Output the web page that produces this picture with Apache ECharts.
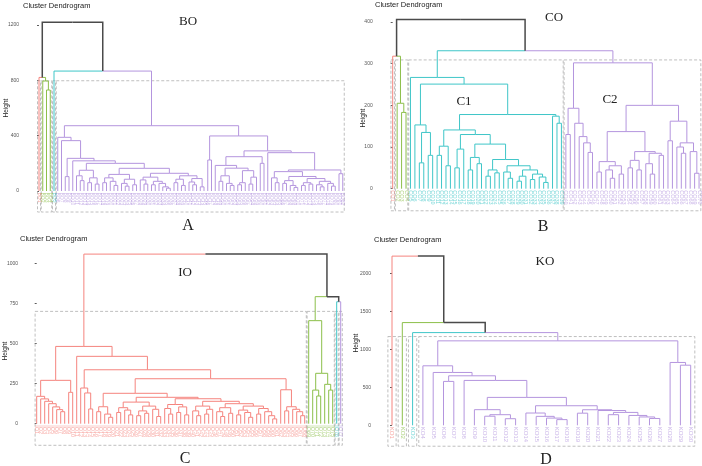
<!DOCTYPE html>
<html>
<head>
<meta charset="utf-8">
<script src="https://cdn.jsdelivr.net/npm/echarts@6/dist/echarts.min.js"></script>
<style>
  html, body { margin: 0; background: #fff; }
  #chart { width: 702px; height: 466px; }
</style>
</head>
<body>
<div id="chart"></div>
<script>
// cluster colours: red, green, cyan, purple
const palette = ['#F5847E', '#8CBF4A', '#3FC6C8', '#B495DE'];

// trees: [height, left, right], leaf = 0, {k: cluster, t: subtree}
const boGreen = [795, 0, [730, 0, 0]];
const boPurple = [472,
  [388, 0, [364, 0, [236, [104, 0, 0], [218, 0, [200,
    [150, [110, 0, [75, 0, 0]], [95, [60, 0, 0], [50, 0, 0]]],
    [164,
      [120, [95, [60, 0, 0], [70, 0, [40, 0, 0]]], [85, [55, 0, [35, 0, 0]], [45, 0, 0]]],
      [128,
        [100, [80, 0, [50, 0, 0]], [70, [45, 0, 0], [55, 0, [30, 0, [20, 0, 0]]]]],
        [110, [85, [60, 0, 0], [40, 0, 0]], [90, [65, 0, [45, 0, 0]], [30, 0, 0]]]]]]]]]],
  [398, [224, 0, 0], [290,
    [248, [185, 0, [165, [110, [70, 0, 0], [55, 0, [40, 0, 0]]], [147, [60, [45, 0, 0], 0], [100, [50, 0, 0], 0]]]], [200, 0, 0]],
    [277, 0, [152,
      [140, [95, 0, [60, 0, 0]],
        [105, [75, [55, 0, 0], [40, 0, [25, 0, 0]]],
          [90, [60, [40, 0, 0], [50, 0, 0]], [70, [45, 0, [30, 0, 0]], [55, 0, [35, 0, 0]]]]]],
      [125, 0, 0]]]]]];
const boTree = [1220, [821, {k: 0, t: 0}, {k: 1, t: boGreen}], [867, {k: 2, t: 0}, {k: 3, t: boPurple}]];

const coGreen = [205, 0, [183, 0, 0]];
const coCyan = [267, 0, [251,
  [153, 0, [135, [62, 0, 0], [80, 0, 0]]],
  [178,
    [141, [102, [80, 0, 0], [55, 0, 0]],
      [130, [95, [50, 0, 0], 0],
        [107, [75, [45, 0, 0], [60, 0, 0]],
          [70, [45, [30, 0, 0], [38, 0, 0]],
            [55, [40, 0, [25, 0, 0]],
              [45, [30, [18, 0, 0], 0], [35, [22, 0, 0], [28, 0, [15, 0, 0]]]]]]]]],
    [174, 0, [157, 0, 0]]]]];
const coPurple = [302,
  [193, [130, 0, 0], [157, 0, [125, 0, [110, 0, [87, 0, 0]]]]],
  [200,
    [137, [65, [40, 0, 0], [55, [45, 0, [25, 0, 0]], [35, 0, 0]]],
      [89, [68, [50, 0, 0], [45, 0, 0]], [85, [60, 0, [35, 0, 0]], [80, 0, 0]]]],
    [162, [115, 0, 0], [110, [100, 0, [85, 0, 0]], [89, 0, [37, 0, 0]]]]]];
const coTree = [406, [318, {k: 0, t: 0}, {k: 1, t: coGreen}], [331, {k: 2, t: coCyan}, {k: 3, t: coPurple}]];

const ioRed = [483,
  [271, [171, 0, [155, 0, [140, 0, [125, 0, [105, 0, [88, 0, [75, 0, 0]]]]]]], [196, 0, 0]],
  [421, 0, [337,
    [223, 0, [192, 0, [92, 0, 0]]],
    [281,
      [190, [106, [75, 0, 0], [60, 0, [40, 0, 0]]],
        [165,
          [135, [100, [70, 0, 0], [85, 0, [55, 0, 0]]], [110, [80, [50, 0, 0], [65, 0, 0]], [90, 0, [45, 0, 0]]]],
          [156,
            [120, [95, 0, [60, 0, 0]], [105, [70, 0, 0], [55, 0, 0]]],
            [140,
              [110, [80, 0, [50, 0, 0]], [90, [60, 0, 0], 0]],
              [125,
                [100, [75, 0, [45, 0, 0]], [65, 0, 0]],
                [110, [85, [55, 0, 0], [70, 0, [40, 0, 0]]], [95, [60, 0, 0], [75, 0, [50, 0, [30, 0, 0]]]]]]]]]],
      [212, 0, [106, [80, 0, 0], [90, 0, [75, 0, [50, 0, 0]]]]]]]]];
const ioGreen = [644, 0, [315, [210, 0, [173, 0, 0]], [246, 0, [210, 0, 0]]]];
const ioTree = [1060, {k: 0, t: ioRed}, [794, {k: 1, t: ioGreen}, [762, {k: 2, t: 0}, {k: 3, t: 0}]]];

const koPurple = [1114,
  [785, 0, [697, 0, [653, [579, 0, 0], [592, 0,
    [368,
      [206, 0, [140, [120, 0, 0], [87, 0, 0]]],
      [258,
        [162, 0, [118, 0, [95, 0, [75, 0, 0]]]],
        [205, [160, 0, 0], [195, 0, [170, [140, 0, 0], [130, 0, [110, 0, [90, 0, 0]]]]]]]]]]]],
  [829, 0, [793, 0, 0]]];
const koTree = [2232, {k: 0, t: 0}, [1355, {k: 1, t: 0}, [1223, {k: 2, t: 0}, {k: 3, t: koPurple}]]];

// y ticks of each panel
const boTicks = [0, 400, 800, 1200];
const coTicks = [0, 100, 200, 300, 400];
const ioTicks = [0, 250, 500, 750, 1000];
const koTicks = [0, 500, 1000, 1500, 2000];

// dashed cluster boxes: [top, bottom] heights
const boBox = [797, -152];
const coBox = [309, -53];
const ioBox = [702, -135];
const koBox = [1171, -276];

function layoutTree(tree) {
  const links = [];
  const leaves = [];
  function walk(node, k) {
    if (node !== null && typeof node === 'object' && !Array.isArray(node)) return walk(node.t, node.k);
    if (!Array.isArray(node)) {
      leaves.push(k);
      return {x: leaves.length - 1, h: 0, k: k};
    }
    const a = walk(node[1], k);
    const b = walk(node[2], k);
    const x = (a.x + b.x) / 2;
    links.push([x, node[0], a.x, a.h, a.k], [x, node[0], b.x, b.h, b.k]);
    return {x: x, h: node[0], k: a.k === b.k ? a.k : -1};
  }
  walk(tree, -1);
  return {links: links, leaves: leaves};
}

function clusterBoxes(leaves, box) {
  const out = [];
  leaves.forEach(function (k, i) {
    let r = out.find(function (o) { return o[4] === k; });
    if (!r) { r = [i, i, box[0], box[1], k]; out.push(r); }
    r[1] = i;
  });
  return out.map(function (r) { return [r[0] - 0.4, r[1] + 0.4, r[2], r[3], r[4]]; });
}

// panel placement in pixels
const panels = [
  {tree: boTree, ticks: boTicks, box: boBox, prefix: 'BO', left: 39, step: 3.75, top: 25, bottom: 191, offset: 18, fs: 5},
  {tree: coTree, ticks: coTicks, box: coBox, prefix: 'CO', left: 392.7, step: 4.44, top: 22, bottom: 188.7, offset: 18, fs: 5.5},
  {tree: ioTree, ticks: ioTicks, box: ioBox, prefix: 'IO', left: 36.7, step: 4, top: 263.7, bottom: 423.7, offset: 16.7, fs: 5.5},
  {tree: koTree, ticks: koTicks, box: koBox, prefix: 'KO', left: 392, step: 10.3, top: 273.7, bottom: 425.3, offset: 19, fs: 6}
];

const grids = [], xAxes = [], yAxes = [], series = [];
panels.forEach(function (p, i) {
  const lay = layoutTree(p.tree);
  const n = lay.leaves.length;
  grids.push({left: p.left, top: p.top, width: (n - 1) * p.step, height: p.bottom - p.top, outerBoundsMode: 'none'});
  xAxes.push({type: 'value', gridIndex: i, min: 0, max: n - 1, show: false});
  yAxes.push({
    type: 'value', gridIndex: i,
    min: p.ticks[0], max: p.ticks[p.ticks.length - 1], interval: p.ticks[1] - p.ticks[0],
    offset: p.offset,
    axisLine: {show: false},
    axisTick: {show: true, length: 2, lineStyle: {color: '#333', width: 0.8}},
    axisLabel: {fontSize: 5, color: '#555', margin: 2, fontFamily: 'Liberation Sans',
      formatter: function (v) { return String(v); }},
    splitLine: {show: false}
  });
  series.push({
    type: 'custom', xAxisIndex: i, yAxisIndex: i, clip: false, silent: true,
    data: clusterBoxes(lay.leaves, p.box),
    renderItem: function (params, api) {
      const a = api.coord([api.value(0), api.value(2)]);
      const b = api.coord([api.value(1), api.value(3)]);
      return {
        type: 'rect',
        shape: {x: a[0], y: a[1], width: b[0] - a[0], height: b[1] - a[1]},
        style: {fill: null, stroke: '#b8b8b8', lineWidth: 0.9, lineDash: [3, 2]}
      };
    }
  });
  series.push({
    type: 'custom', xAxisIndex: i, yAxisIndex: i, clip: false, silent: true,
    data: lay.leaves.map(function (k, j) { return [j, 0, k]; }),
    renderItem: function (params, api) {
      const pt = api.coord([api.value(0), 0]);
      return {
        type: 'text', x: pt[0], y: pt[1] + 1.5, rotation: -Math.PI / 2,
        style: {
          text: p.prefix + (params.dataIndex + 1),
          fontSize: p.fs, fontFamily: 'Liberation Sans',
          fill: palette[api.value(2)], opacity: 0.7,
          align: 'left', verticalAlign: 'middle'
        }
      };
    }
  });
  series.push({
    type: 'custom', xAxisIndex: i, yAxisIndex: i, clip: false, silent: true,
    data: lay.links,
    renderItem: function (params, api) {
      const a = api.coord([api.value(0), api.value(1)]);
      const b = api.coord([api.value(2), api.value(1)]);
      const c = api.coord([api.value(2), api.value(3)]);
      const k = api.value(4);
      return {
        type: 'polyline',
        shape: {points: [a, b, c]},
        style: {fill: null, stroke: k < 0 ? '#4a4a4a' : palette[k], lineWidth: k < 0 ? 1.5 : 1}
      };
    }
  });
});

const sans = 'Liberation Sans', serif = 'Liberation Serif';
function txt(s, x, y, size, family, align, rotation) {
  return {
    type: 'text', x: x, y: y, silent: true, rotation: rotation || 0,
    style: {text: s, fontSize: size, fontFamily: family, fill: '#222', align: align || 'center', verticalAlign: 'middle'}
  };
}
const graphic = [
  txt('Cluster Dendrogram', 23, 6, 7.5, sans, 'left'),
  txt('Cluster Dendrogram', 375, 5, 7.5, sans, 'left'),
  txt('Cluster Dendrogram', 20, 239, 7.5, sans, 'left'),
  txt('Cluster Dendrogram', 374, 240, 7.5, sans, 'left'),
  txt('BO', 188, 22, 13, serif),
  txt('CO', 554, 18, 13, serif),
  txt('C1', 464, 102, 13, serif),
  txt('C2', 610, 100, 13, serif),
  txt('IO', 185, 273, 13, serif),
  txt('KO', 545, 262, 13, serif),
  txt('A', 188, 226, 16, serif),
  txt('B', 543, 227, 16, serif),
  txt('C', 185, 459, 16, serif),
  txt('D', 546, 460, 16, serif),
  txt('Height', 6, 108, 6.5, sans, 'center', Math.PI / 2),
  txt('Height', 363, 118, 6.5, sans, 'center', Math.PI / 2),
  txt('Height', 5, 351, 6.5, sans, 'center', Math.PI / 2),
  txt('Height', 356, 343, 6.5, sans, 'center', Math.PI / 2)
];

const chart = echarts.init(document.getElementById('chart'), null, {renderer: 'canvas'});
chart.setOption({
  animation: false,
  backgroundColor: '#fff',
  grid: grids,
  xAxis: xAxes,
  yAxis: yAxes,
  series: series,
  graphic: graphic
});
</script>
</body>
</html>
